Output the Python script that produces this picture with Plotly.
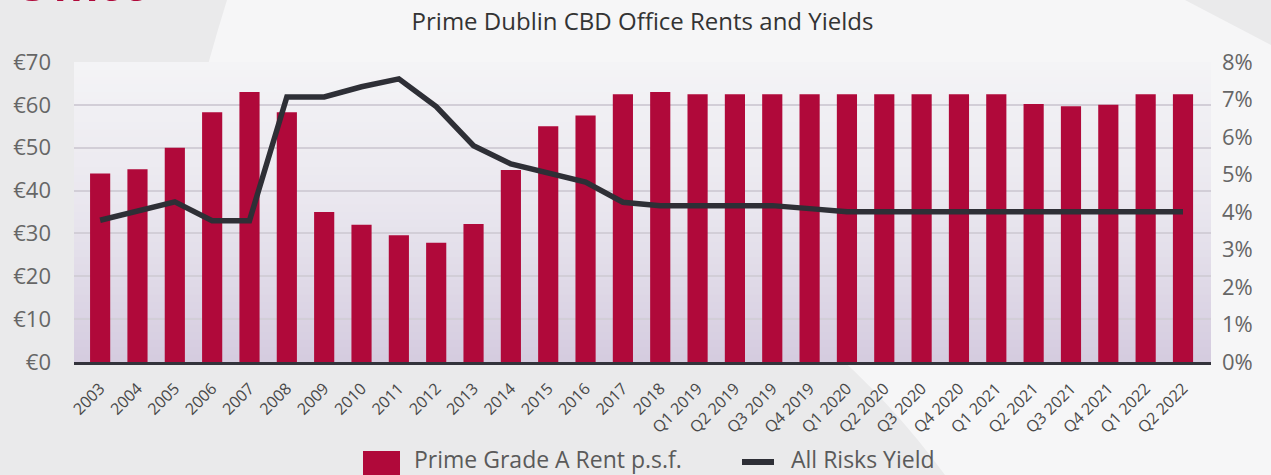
import plotly.graph_objects as go

# data
periods = [
    "2003", "2004", "2005", "2006", "2007", "2008", "2009", "2010", "2011",
    "2012", "2013", "2014", "2015", "2016", "2017", "2018",
    "Q1 2019", "Q2 2019", "Q3 2019", "Q4 2019",
    "Q1 2020", "Q2 2020", "Q3 2020", "Q4 2020",
    "Q1 2021", "Q2 2021", "Q3 2021", "Q4 2021",
    "Q1 2022", "Q2 2022",
]
rent = [
    44, 45, 50, 58.3, 63, 58.3, 35, 32, 29.6,
    27.8, 32.2, 44.8, 55, 57.5, 62.5, 63,
    62.5, 62.5, 62.5, 62.5,
    62.5, 62.5, 62.5, 62.5,
    62.5, 60.2, 59.7, 60,
    62.5, 62.5,
]
yield_pct = [
    3.78, 4.02, 4.27, 3.77, 3.77, 7.07, 7.07, 7.34, 7.55,
    6.81, 5.77, 5.28, 5.04, 4.8, 4.26, 4.17,
    4.17, 4.17, 4.17, 4.09,
    4.01, 4.01, 4.01, 4.01,
    4.01, 4.01, 4.01, 4.01,
    4.01, 4.01,
]
rent_ticks = [0, 10, 20, 30, 40, 50, 60, 70]
yield_ticks = [0, 1, 2, 3, 4, 5, 6, 7, 8]

RED = '#b0093a'
DARK = '#2e2f36'
FONT = 'Open Sans'

W, H = 1271, 475
L, R, T, B = 74, 60, 62, 113
PW, PH = W - L - R, H - T - B


def px(x):
    return (x - L) / PW


def py(y):
    return (H - B - y) / PH


fig = go.Figure()
fig.add_trace(go.Bar(
    x=periods, y=rent, name='Prime Grade A Rent p.s.f.',
    marker=dict(color=RED, line=dict(width=0)), showlegend=False,
))
fig.add_trace(go.Scatter(
    x=periods, y=yield_pct, name='All Risks Yield', yaxis='y2', mode='lines',
    line=dict(color=DARK, width=5.5), showlegend=False,
))

# --- background: light swoosh + lavender gradient in plot area
shapes = []
swoosh = (f"M {px(227)},{py(0)} L {px(1185)},{py(0)} L {px(1271)},{py(45)} "
          f"L {px(1271)},{py(475)} L {px(945)},{py(475)} "
          f"Q {px(890)},{py(400)} {px(820)},{py(340)} L {px(150)},{py(340)} "
          f"Q {px(180)},{py(150)} {px(227)},{py(0)} Z")
shapes.append(dict(type='path', path=swoosh, xref='paper', yref='paper',
                   fillcolor='#f6f6f7', line=dict(width=0), layer='below'))

stops = [(0.0, (244, 244, 246)), (0.5, (233, 230, 238)), (1.0, (212, 203, 223))]


def grad(t):
    for (t0, c0), (t1, c1) in zip(stops, stops[1:]):
        if t <= t1:
            f = (t - t0) / (t1 - t0)
            return 'rgb(%d,%d,%d)' % tuple(round(a + (b - a) * f) for a, b in zip(c0, c1))
    return 'rgb(%d,%d,%d)' % stops[-1][1]


n_bands = 40
for i in range(n_bands):
    t = (i + 0.5) / n_bands
    shapes.append(dict(type='rect', xref='paper', yref='paper',
                       x0=0, x1=1, y0=1 - (i + 1) / n_bands - 0.002, y1=1 - i / n_bands,
                       fillcolor=grad(t), line=dict(width=0), layer='below'))

# --- manual legend
shapes.append(dict(type='rect', xref='paper', yref='paper',
                   x0=px(363), x1=px(400), y0=py(482), y1=py(451),
                   fillcolor=RED, line=dict(width=0)))
shapes.append(dict(type='line', xref='paper', yref='paper',
                   x0=px(742), x1=px(774), y0=py(462), y1=py(462),
                   line=dict(color=DARK, width=6)))

annotations = [
    dict(text=fig.data[0].name, x=px(412), y=py(459), xref='paper', yref='paper',
         xanchor='left', yanchor='middle', showarrow=False,
         font=dict(family=FONT, size=23, color='#5a5a5a')),
    dict(text=fig.data[1].name, x=px(789), y=py(459), xref='paper', yref='paper',
         xanchor='left', yanchor='middle', showarrow=False,
         font=dict(family=FONT, size=23, color='#5a5a5a')),
    dict(text='<b>Office</b>', x=px(10), y=py(-18), xref='paper', yref='paper',
         xanchor='left', yanchor='middle', showarrow=False,
         font=dict(family='Lato', size=50, color=RED)),
]

fig.update_layout(
    width=W, height=H,
    margin=dict(l=L, r=R, t=T, b=B),
    paper_bgcolor='#eaeaeb', plot_bgcolor='rgba(0,0,0,0)',
    font=dict(family=FONT, color='#555'),
    title=dict(text='Prime Dublin CBD Office Rents and Yields',
               xref='paper', x=0.5, xanchor='center',
               yref='container', y=1 - 22 / H, yanchor='middle',
               font=dict(family=FONT, size=24, color='#333')),
    bargap=0.46,
    shapes=shapes, annotations=annotations,
    showlegend=False,
    xaxis=dict(type='category', range=[-0.7, 29.75], tickangle=-45,
               showgrid=False, showline=True, linecolor='#33333b', linewidth=3,
               ticks='', ticklabelstandoff=8,
               tickfont=dict(family=FONT, size=16, color='#484848')),
    yaxis=dict(range=[0, 70], tickmode='array', tickvals=rent_ticks,
               ticktext=[f'€{v}' for v in rent_ticks],
               showgrid=True, gridcolor='#d2ced7', gridwidth=1.5,
               zeroline=False, ticks='', ticklabelstandoff=22,
               tickfont=dict(family=FONT, size=22, color='#666')),
    yaxis2=dict(range=[0, 8], tickmode='array', tickvals=yield_ticks,
                ticktext=[f'{v}%' for v in yield_ticks],
                overlaying='y', side='right', showgrid=False, zeroline=False,
                ticks='', ticklabelstandoff=10,
                tickfont=dict(family=FONT, size=22, color='#666')),
)

fig.write_html("out.html", config={'displayModeBar': False},
               post_script="document.body.style.margin='0';"
                           "document.body.style.overflow='hidden';")
